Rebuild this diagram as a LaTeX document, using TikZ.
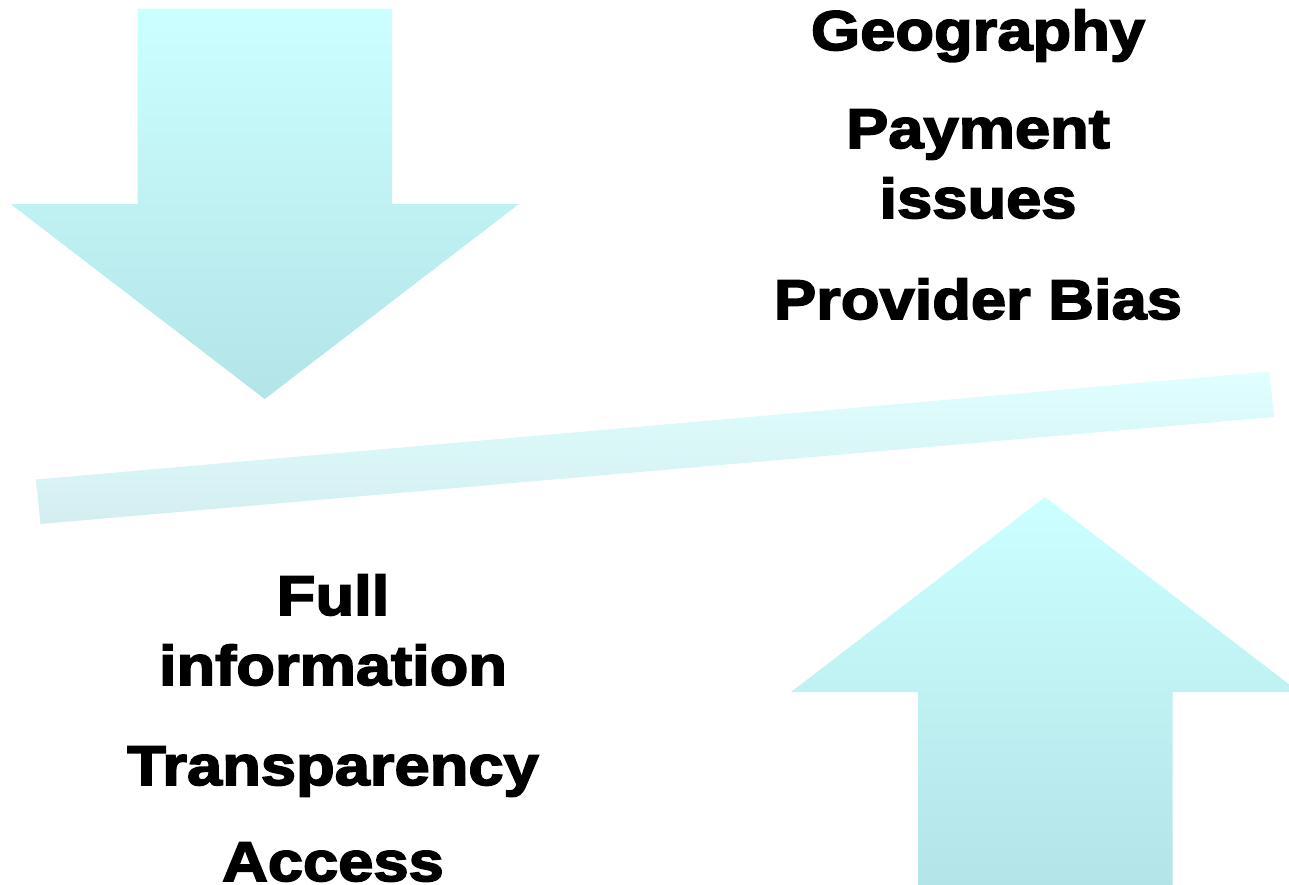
\documentclass[tikz,border=0pt]{standalone}
\usepackage{fontspec}
\newfontfamily\heavyfont{Liberation Sans Bold}[FakeStretch=1.13,FakeBold=3]
\definecolor{arrtop}{HTML}{CCFFFF}
\definecolor{arrbot}{HTML}{B3E4E8}
\definecolor{beamtop}{HTML}{E0FFFF}
\definecolor{beambot}{HTML}{D4EEF0}
\tikzset{
  lbl/.style={anchor=base, inner sep=0pt, font=\heavyfont\fontsize{42}{48}\selectfont, text=black},
  arrowfill/.style={top color=arrtop, bottom color=arrbot, draw=none},
  beamfill/.style={top color=beamtop, bottom color=beambot, draw=none}
}
\begin{document}
\begin{tikzpicture}[x=0.75pt,y=-0.75pt]
\useasboundingbox (0,0) rectangle (1289,885);
\clip (0,0) rectangle (1289,885);
% down arrow
\shade[arrowfill] (137.5,8.5) -- (392,8.5) -- (392,204) -- (519,204) -- (264.75,399) -- (10.5,204) -- (137.5,204) -- cycle;
% up arrow
\shade[arrowfill] (1045,497) -- (1299,692) -- (1172.5,692) -- (1172.5,886) -- (918,886) -- (918,692) -- (791,692) -- cycle;
% beam
\shade[beamfill] (36,479.5) -- (1269.5,371.5) -- (1274,417) -- (40.5,524) -- cycle;
% texts right
\node[lbl] (geo) at (978,50) {Geography};
\node[lbl] (pay) at (978,148) {Payment};
\node[lbl] (iss) at (978,218) {issues};
\node[lbl] (prov) at (978,319) {Provider Bias};
% texts left
\node[lbl] (full) at (333,615) {Full};
\node[lbl] (info) at (333,685) {information};
\node[lbl] (trans) at (333,785) {Transparency};
\node[lbl] (acc) at (333,881) {Access};
\end{tikzpicture}
\end{document}
